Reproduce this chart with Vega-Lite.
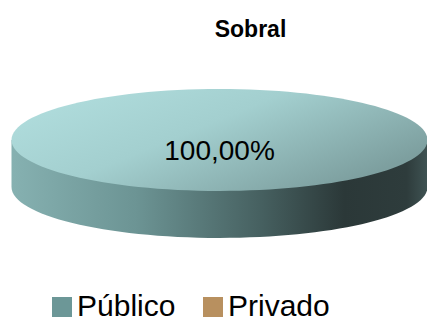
{
  "$schema": "https://vega.github.io/schema/vega-lite/v6.json",
  "width": 415,
  "height": 140,
  "autosize": {"type": "none"},
  "padding": {"left": 12, "right": 0, "top": 70, "bottom": 109},
  "background": "white",
  "title": {
    "text": "Sobral",
    "font": "Liberation Sans",
    "fontSize": 23,
    "fontWeight": "bold",
    "color": "#000000",
    "anchor": "middle",
    "dx": 31,
    "offset": 28
  },
  "data": {
    "values": [
      {"setor": "Público", "valor": 1.0},
      {"setor": "Privado", "valor": 0.0}
    ]
  },
  "layer": [
    {
      "transform": [{"filter": "datum.valor > 0"}],
      "mark": {
        "type": "point",
        "filled": true,
        "opacity": 1,
        "size": 173056,
        "shape": "M -1 0 L -1 0.226 A 1 0.245 0 0 0 1 0.226 L 1 0 Z",
        "fill": {
          "gradient": "linear",
          "x1": 0, "y1": 0, "x2": 1, "y2": 0,
          "stops": [
            {"offset": 0, "color": "#86b1b1"},
            {"offset": 0.3, "color": "#6c9494"},
            {"offset": 0.6, "color": "#466060"},
            {"offset": 0.8, "color": "#2b3838"},
            {"offset": 0.95, "color": "#2e3c3c"},
            {"offset": 1, "color": "#3f5353"}
          ]
        }
      },
      "encoding": {}
    },
    {
      "transform": [{"filter": "datum.valor > 0"}],
      "mark": {
        "type": "point",
        "filled": true,
        "opacity": 1,
        "size": 173056,
        "shape": "M -1 0 A 1 0.245 0 1 1 1 0 A 1 0.245 0 1 1 -1 0 Z",
        "fill": {
          "gradient": "linear",
          "x1": 0, "y1": 0, "x2": 1, "y2": 0.6,
          "stops": [
            {"offset": 0, "color": "#b3e0e0"},
            {"offset": 0.5, "color": "#a3cfcf"},
            {"offset": 1, "color": "#7d9f9f"}
          ]
        }
      },
      "encoding": {}
    },
    {
      "transform": [{"filter": "datum.valor > 0"}],
      "mark": {
        "type": "text",
        "font": "Liberation Sans",
        "fontSize": 28,
        "color": "#000000",
        "baseline": "middle",
        "align": "center",
        "dy": 12
      },
      "encoding": {
        "text": {"field": "valor", "type": "quantitative", "format": ".2%"}
      }
    },
    {
      "mark": {"type": "point", "filled": true, "opacity": 0, "shape": "square"},
      "encoding": {
        "color": {
          "field": "setor",
          "type": "nominal",
          "sort": ["Público", "Privado"],
          "scale": {"domain": ["Público", "Privado"], "range": ["#6c9797", "#b8905f"]},
          "legend": {
            "title": null,
            "orient": "none",
            "direction": "horizontal",
            "legendX": 35,
            "legendY": 222,
            "symbolType": "square",
            "symbolSize": 400,
            "symbolOpacity": 1,
            "symbolStrokeWidth": 0,
            "labelFont": "Liberation Sans",
            "labelFontSize": 30,
            "labelColor": "#000000",
            "labelOffset": 0,
            "columnPadding": 22,
            "labelLimit": 300
          }
        }
      }
    }
  ],
  "config": {
    "view": {"stroke": null},
    "locale": {
      "number": {"decimal": ",", "thousands": ".", "grouping": [3], "currency": ["R$", ""]}
    }
  }
}
